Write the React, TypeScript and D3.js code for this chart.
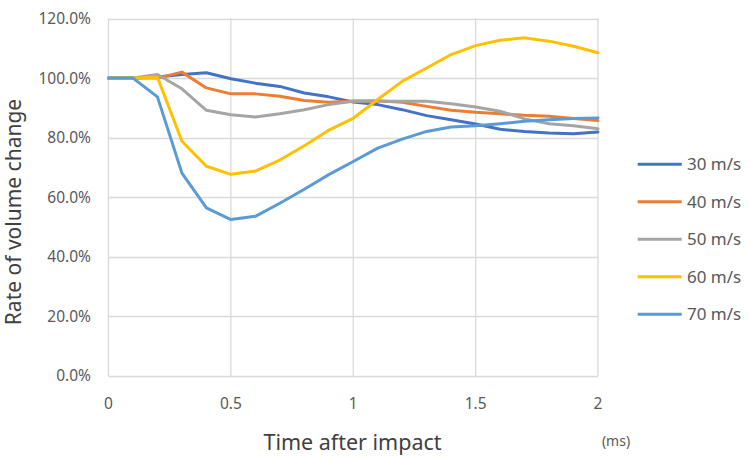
import React from "react";
import * as d3 from "d3";

const times = d3.range(0, 21).map((i) => i / 10);
const seriesNames = ["30 m/s", "40 m/s", "50 m/s", "60 m/s", "70 m/s"];
const seriesColors = ["#4472C4", "#ED7D31", "#A5A5A5", "#FFC000", "#5B9BD5"];
const v30 = [100, 100, 100.4, 101.2, 101.8, 99.8, 98.3, 97.2, 95, 93.7, 92, 91.1, 89.4, 87.4, 86, 84.6, 82.8, 82.1, 81.6, 81.3, 81.9];
const v40 = [100, 100, 100, 102, 96.7, 94.7, 94.7, 93.9, 92.5, 91.9, 92.3, 92.4, 91.9, 90.5, 89.2, 88.5, 88, 87.5, 87.2, 86.4, 85.8];
const v50 = [100, 100, 101.2, 96.4, 89.2, 87.7, 86.9, 88, 89.4, 91.1, 92.2, 92.2, 92.2, 92.2, 91.4, 90.3, 88.9, 86.3, 84.7, 84, 83];
const v60 = [100, 100, 100.3, 78.8, 70.4, 67.7, 68.8, 72.5, 77.3, 82.5, 86.5, 92.8, 98.9, 103.4, 107.9, 110.9, 112.7, 113.5, 112.4, 110.7, 108.5];
const v70 = [100, 100, 93.7, 68.1, 56.4, 52.5, 53.6, 58, 62.7, 67.6, 72, 76.5, 79.5, 82.1, 83.6, 84, 84.7, 85.5, 86, 86.4, 86.6];
const seriesValues = [v30, v40, v50, v60, v70];
const xTicks = [0, 0.5, 1, 1.5, 2];
const yTicks = [0, 20, 40, 60, 80, 100, 120];

const W = 750;
const H = 457;
const left = 108.5;
const right = 598;
const top = 18.5;
const bottom = 376;

export default function App() {
  const x = d3.scaleLinear().domain([0, 2]).range([left, right]);
  const y = d3.scaleLinear().domain([0, 120]).range([bottom, top]);
  const line = d3
    .line<number>()
    .x((_, i) => x(times[i]))
    .y((d) => y(d));
  const font = "'Noto Sans', sans-serif";
  return (
    <svg
      width={W}
      height={H}
      style={{ position: "absolute", left: 0, top: 0, background: "#fff" }}
      fontFamily={font}
    >
      <rect width={W} height={H} fill="#fff" />
      {yTicks.map((t) => (
        <g key={"y" + t}>
          <line x1={left} x2={right} y1={Math.round(y(t)) + 0.5} y2={Math.round(y(t)) + 0.5} stroke="#D9D9D9" strokeWidth={1.3} />
          <text x={91} y={y(t)} dy="0.35em" textAnchor="end" fontSize={15.5} fill="#595959">
            {d3.format(".1f")(t) + "%"}
          </text>
        </g>
      ))}
      {xTicks.map((t) => (
        <g key={"x" + t}>
          <line x1={x(t)} x2={x(t)} y1={top} y2={bottom} stroke="#D9D9D9" strokeWidth={1.3} />
          <text x={x(t)} y={409} textAnchor="middle" fontSize={15.5} fill="#595959">
            {String(t)}
          </text>
        </g>
      ))}
      {seriesValues.map((vals, k) => (
        <path
          key={seriesNames[k]}
          d={line(vals) || ""}
          fill="none"
          stroke={seriesColors[k]}
          strokeWidth={3}
          strokeLinejoin="round"
          strokeLinecap="round"
        />
      ))}
      <text x={352.5} y={449.5} textAnchor="middle" fontSize={21.5} fill="#404040">
        Time after impact
      </text>
      <text x={616} y={445.5} textAnchor="middle" fontSize={14} fill="#595959">
        (ms)
      </text>
      <text
        transform={`translate(20.5,212) rotate(-90)`}
        textAnchor="middle"
        fontSize={21}
        fill="#404040"
      >
        Rate of volume change
      </text>
      {seriesNames.map((n, k) => {
        const ly = 164.3 + k * 37.5;
        return (
          <g key={"lg" + n}>
            <line x1={637.7} x2={681.7} y1={ly} y2={ly} stroke={seriesColors[k]} strokeWidth={3} />
            <text x={687} y={ly} dy="0.35em" fontSize={17} fill="#595959">
              {n}
            </text>
          </g>
        );
      })}
    </svg>
  );
}
